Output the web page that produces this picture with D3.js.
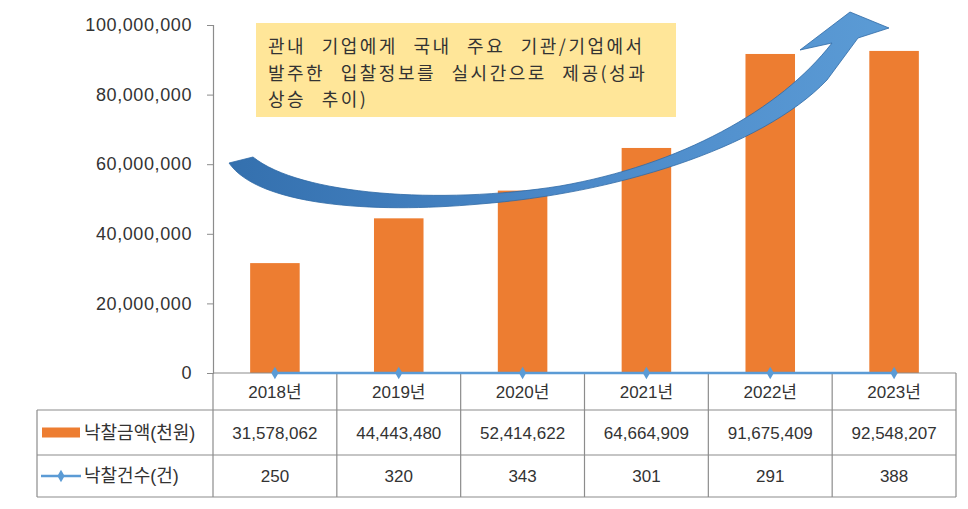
<!DOCTYPE html>
<html><head><meta charset="utf-8">
<script src="https://cdn.jsdelivr.net/npm/d3@7"></script>
<style>
html,body{margin:0;padding:0;background:#fff;}
svg{display:block;}
text{font-family:"Liberation Sans","Noto Sans CJK KR",sans-serif;fill:#333;}
</style></head>
<body>
<svg id="chart" width="968" height="509"></svg>
<script>
const years = ["2018년","2019년","2020년","2021년","2022년","2023년"];
const amounts = [31578062, 44443480, 52414622, 64664909, 91675409, 92548207];
const counts = [250, 320, 343, 301, 291, 388];
const yTicks = [0, 20000000, 40000000, 60000000, 80000000, 100000000];
const seriesNames = ["낙찰금액(천원)", "낙찰건수(건)"];
const calloutLines = ["관내 기업에게 국내 주요 기관/기업에서", "발주한 입찰정보를 실시간으로 제공(성과", "상승 추이)"];

const W = 968, H = 509;
const plotL = 213, plotR = 956, plotT = 25, plotB = 373;
const rowLines = [410, 455, 497];
const tableL = 37;
const orange = "#ED7D31", blue = "#5B9BD5", gridC = "#8c8c8c";

const svg = d3.select("#chart");

const x = d3.scaleBand().domain(years).range([plotL, plotR]).paddingInner(0.6).paddingOuter(0.3);
const y = d3.scaleLinear().domain([0, 100000000]).range([plotB, plotT]);
const step = x.step();
const cx = d => x(d) + x.bandwidth() / 2;

// bars
svg.append("g").selectAll("rect").data(years).join("rect")
  .attr("x", d => x(d)).attr("width", x.bandwidth())
  .attr("y", (d, i) => y(amounts[i])).attr("height", (d, i) => y(0) - y(amounts[i]))
  .attr("fill", orange);

// y axis
const yAxis = d3.axisLeft(y).tickValues(yTicks).tickFormat(d3.format(",")).tickSize(6).tickPadding(15);
const gy = svg.append("g").attr("transform", `translate(${plotL},0)`).call(yAxis);
gy.select(".domain").attr("stroke", gridC).attr("stroke-width", 1.2);
gy.selectAll(".tick line").attr("stroke", gridC);
gy.selectAll(".tick text").style("font-size", "18px").style("letter-spacing", "0.6px")
  .attr("fill", "#333").style("font-family", '"Liberation Sans", Arial, sans-serif');

// table grid
const tg = svg.append("g").attr("stroke", gridC).attr("stroke-width", 1.2).attr("fill", "none");
tg.append("line").attr("x1", plotL).attr("x2", plotR).attr("y1", y(0)).attr("y2", y(0));
rowLines.forEach(ry => tg.append("line").attr("x1", tableL).attr("x2", plotR).attr("y1", ry).attr("y2", ry));
tg.append("line").attr("x1", tableL).attr("x2", tableL).attr("y1", rowLines[0]).attr("y2", rowLines[2]);
d3.range(years.length + 1).forEach(i => {
  const lx = plotL + i * step;
  tg.append("line").attr("x1", lx).attr("x2", lx).attr("y1", y(0)).attr("y2", rowLines[2]);
});

// header row + value rows
const fmt = d3.format(",");
const tt = svg.append("g").style("font-size", "17px").attr("text-anchor", "middle");
years.forEach((yr, i) => {
  tt.append("text").attr("x", cx(yr)).attr("y", (y(0) + rowLines[0]) / 2 + 6).text(yr);
  tt.append("text").attr("x", cx(yr)).attr("y", (rowLines[0] + rowLines[1]) / 2 + 6).text(fmt(amounts[i]));
  tt.append("text").attr("x", cx(yr)).attr("y", (rowLines[1] + rowLines[2]) / 2 + 6).text(fmt(counts[i]));
});

// legend keys
const r1 = (rowLines[0] + rowLines[1]) / 2, r2 = (rowLines[1] + rowLines[2]) / 2;
svg.append("rect").attr("x", 42).attr("y", r1 - 5).attr("width", 38).attr("height", 10).attr("fill", orange);
svg.append("line").attr("x1", 41).attr("x2", 81).attr("y1", r2).attr("y2", r2).attr("stroke", blue).attr("stroke-width", 2.5);
svg.append("path").attr("d", d3.symbol(d3.symbolDiamond, 45)()).attr("transform", `translate(61,${r2})`).attr("fill", blue);
svg.append("text").attr("x", 84).attr("y", r1 + 6).style("font-size", "18px").text(seriesNames[0]);
svg.append("text").attr("x", 84).attr("y", r2 + 6).style("font-size", "18px").text(seriesNames[1]);

// count line (primary axis, lies along zero)
const line = d3.line().x((d, i) => cx(years[i])).y(d => y(d));
svg.append("path").datum(counts).attr("d", line).attr("fill", "none").attr("stroke", blue).attr("stroke-width", 2.5);
svg.append("g").selectAll("path").data(counts).join("path")
  .attr("d", d3.symbol(d3.symbolDiamond, 45)())
  .attr("transform", (d, i) => `translate(${cx(years[i])},${y(d)})`)
  .attr("fill", blue);

// callout box
svg.append("rect").attr("x", 256).attr("y", 23).attr("width", 420).attr("height", 94).attr("fill", "#FFE699");
calloutLines.forEach((t, i) => {
  svg.append("text").attr("x", 268).attr("y", 53 + i * 26.5)
    .style("font-family", '"Noto Sans CJK KR", sans-serif').style("font-size", "18px")
    .style("letter-spacing", "2.5px").style("word-spacing", "9px").attr("fill", "#222")
    .text(t);
});

// big curved arrow (decorative annotation)
const defs = svg.append("defs");
const grad = defs.append("linearGradient").attr("id", "ag").attr("x1", "0").attr("x2", "1").attr("y1", "0").attr("y2", "0");
grad.append("stop").attr("offset", "0").attr("stop-color", "#3470AE");
grad.append("stop").attr("offset", "0.5").attr("stop-color", "#4A88C8");
grad.append("stop").attr("offset", "1").attr("stop-color", "#5B9BD5");
svg.append("path")
  .attr("d", "M229,163 C258,205 370,214 480,204 C610,194 760,150 827,80 L858,38 L889,28 L850,12 L800,50 L832,43 C780,110 680,165 560,186 C440,205 300,195 253,157 Z")
  .attr("fill", "url(#ag)").attr("stroke", "#2F6AA6").attr("stroke-width", 0.8);
</script>
</body></html>
